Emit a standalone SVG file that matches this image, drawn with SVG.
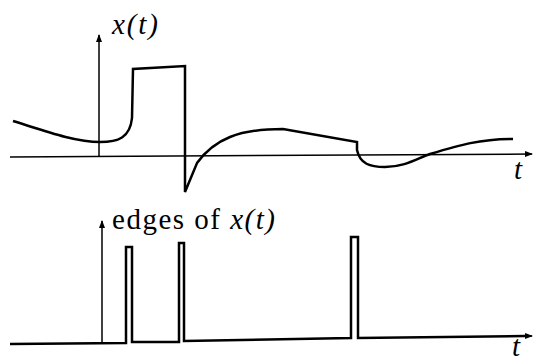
<svg xmlns="http://www.w3.org/2000/svg" width="534" height="362" viewBox="0 0 534 362">
<defs>
<marker id="ah" markerWidth="8" markerHeight="8" refX="7" refY="4" orient="auto" markerUnits="userSpaceOnUse">
<path d="M0,1 L8,4 L0,7 Z" fill="#000"/>
</marker>
<style>
.axis{stroke:#000;stroke-width:1.5;fill:none}
.sig{stroke:#000;stroke-width:2.5;fill:none;stroke-linejoin:miter}
text{font-family:'Liberation Serif','Times New Roman','DejaVu Serif',serif;font-size:29px;fill:#000}
.it{font-style:italic}
</style>
</defs>
<rect width="534" height="362" fill="#fff"/>
<g id="top-axes">
<line class="axis" x1="10" y1="157" x2="532" y2="154" marker-end="url(#ah)"/>
<line class="axis" x1="99" y1="157" x2="99" y2="35" marker-end="url(#ah)"/>
<text class="it" x="112" y="34" textLength="46" lengthAdjust="spacing">x(t)</text>
<text class="it" x="514" y="179">t</text>
</g>
<g id="signal">
<path class="sig" d="M13,121 C45,131 75,142 100,142 C118,142 130,138 132,118 L133,69 L185,66 L185,192 L197,163 C205,152 215,143 230,137 C245,131 260,129 283,129 L357,142 L357,150 C360,164 370,167 385,167 C405,167 418,158 430,154 C460,145 480,139 513,139"/>
</g>
<g id="bottom-axes">
<line class="axis" x1="102" y1="343" x2="102" y2="221" marker-end="url(#ah)"/>
<text x="112" y="229" textLength="163" lengthAdjust="spacing">edges of <tspan class="it">x(t)</tspan></text>
<text class="it" x="512" y="356">t</text>
</g>
<g id="edges">
<path class="sig" d="M10,344 L126,343 L126,247 L132,247 L132,342 L179,342 L179,243 L184,243 L184,341 L351,338 L351,237 L358,237 L358,338 L525,336"/>
<line class="axis" x1="520" y1="336" x2="532" y2="336" marker-end="url(#ah)"/>
</g>
</svg>
